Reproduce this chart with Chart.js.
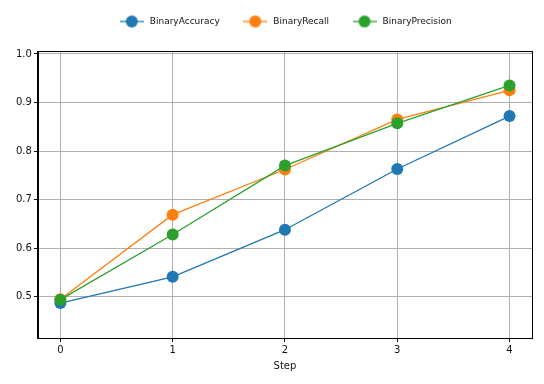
<!DOCTYPE html>
<html><head><meta charset="utf-8">
<script src="https://cdn.jsdelivr.net/npm/chart.js@4/dist/chart.umd.min.js"></script>
<style>html,body{margin:0;padding:0;background:#fff}canvas{display:block}</style>
</head><body>
<canvas id="c" width="544" height="384"></canvas>
<script>
const steps = [0, 1, 2, 3, 4];
const binaryAccuracy = [0.487, 0.541, 0.638, 0.763, 0.872];
const binaryRecall = [0.495, 0.669, 0.762, 0.865, 0.925];
const binaryPrecision = [0.494, 0.628, 0.770, 0.857, 0.935];
const yTicks = [0.5, 0.6, 0.7, 0.8, 0.9, 1.0];
const seriesNames = ['BinaryAccuracy', 'BinaryRecall', 'BinaryPrecision'];
const colors = ['#1f77b4', '#ff7f0e', '#2ca02c'];

function legendIcon(color) {
  const c = document.createElement('canvas');
  c.width = 24; c.height = 14;
  const g = c.getContext('2d');
  g.strokeStyle = color; g.lineWidth = 1.3;
  g.beginPath(); g.moveTo(0, 7); g.lineTo(24, 7); g.stroke();
  g.fillStyle = color;
  g.beginPath(); g.arc(12, 7, 6, 0, Math.PI * 2); g.fill();
  return c;
}
const icons = colors.map(legendIcon);

const seriesValues = [binaryAccuracy, binaryRecall, binaryPrecision];
const datasets = seriesNames.map((name, i) => ({
  label: name,
  data: steps.map((s, j) => ({x: s, y: seriesValues[i][j]})),
  borderColor: colors[i],
  backgroundColor: colors[i],
  borderWidth: 1.3,
  pointRadius: 6,
  pointHoverRadius: 6,
  pointBorderWidth: 0,
  tension: 0,
  order: 2 - i
}));

const legendShift = {
  id: 'legendShift',
  afterLayout(chart) {
    const lg = chart.legend;
    const ca = chart.chartArea;
    const target = (ca.left + ca.right) / 2;
    const cur = (lg.left + lg.right) / 2;
    lg.left += 2 * (target - cur);
    lg.top = -5;
  }
};

const frameBox = {
  id: 'frameBox',
  beforeDatasetsDraw(chart) {
    const {ctx, chartArea: a} = chart;
    ctx.save();
    ctx.strokeStyle = '#000';
    ctx.lineWidth = 1;
    ctx.strokeRect(Math.round(a.left) + 0.5, Math.round(a.top) + 0.5, Math.round(a.right - a.left), Math.round(a.bottom - a.top));
    ctx.restore();
  }
};

new Chart(document.getElementById('c'), {
  type: 'line',
  data: {datasets},
  plugins: [legendShift, frameBox],
  options: {
    responsive: false,
    animation: false,
    devicePixelRatio: 1,
    layout: {padding: {left: 14, right: 12, top: 10, bottom: 12}},
    plugins: {
      tooltip: {enabled: false},
      legend: {
        position: 'top',
        labels: {
          usePointStyle: true,
          pointStyleWidth: 27,
          padding: 22,
          color: '#111',
          font: {family: 'DejaVu Sans', size: 9},
          generateLabels(chart) {
            return chart.data.datasets.map((d, i) => ({
              text: d.label,
              fillStyle: colors[i],
              strokeStyle: colors[i],
              lineWidth: 0,
              pointStyle: icons[i],
              hidden: false,
              datasetIndex: i,
              fontColor: '#111'
            }));
          }
        }
      }
    },
    scales: {
      x: {
        type: 'linear',
        min: -0.2, max: 4.2,
        afterBuildTicks(s) { s.ticks = steps.map(v => ({value: v})); },
        ticks: {color: '#111', font: {family: 'DejaVu Sans', size: 10}, padding: 2, callback: v => String(v)},
        grid: {color: '#b0b0b0', lineWidth: 1, tickLength: 4, tickColor: '#111'},
        border: {color: '#000', width: 1},
        title: {display: true, text: 'Step', color: '#111', font: {family: 'DejaVu Sans', size: 10}, padding: {top: 2, bottom: 0}}
      },
      y: {
        type: 'linear',
        min: 0.415, max: 1.006,
        afterBuildTicks(s) { s.ticks = yTicks.map(v => ({value: v})); },
        ticks: {color: '#111', font: {family: 'DejaVu Sans', size: 10}, padding: 2, callback: v => v.toFixed(1)},
        grid: {color: '#b0b0b0', lineWidth: 1, tickLength: 4, tickColor: '#111'},
        border: {color: '#000', width: 1}
      }
    }
  },
});
</script>
</body></html>
